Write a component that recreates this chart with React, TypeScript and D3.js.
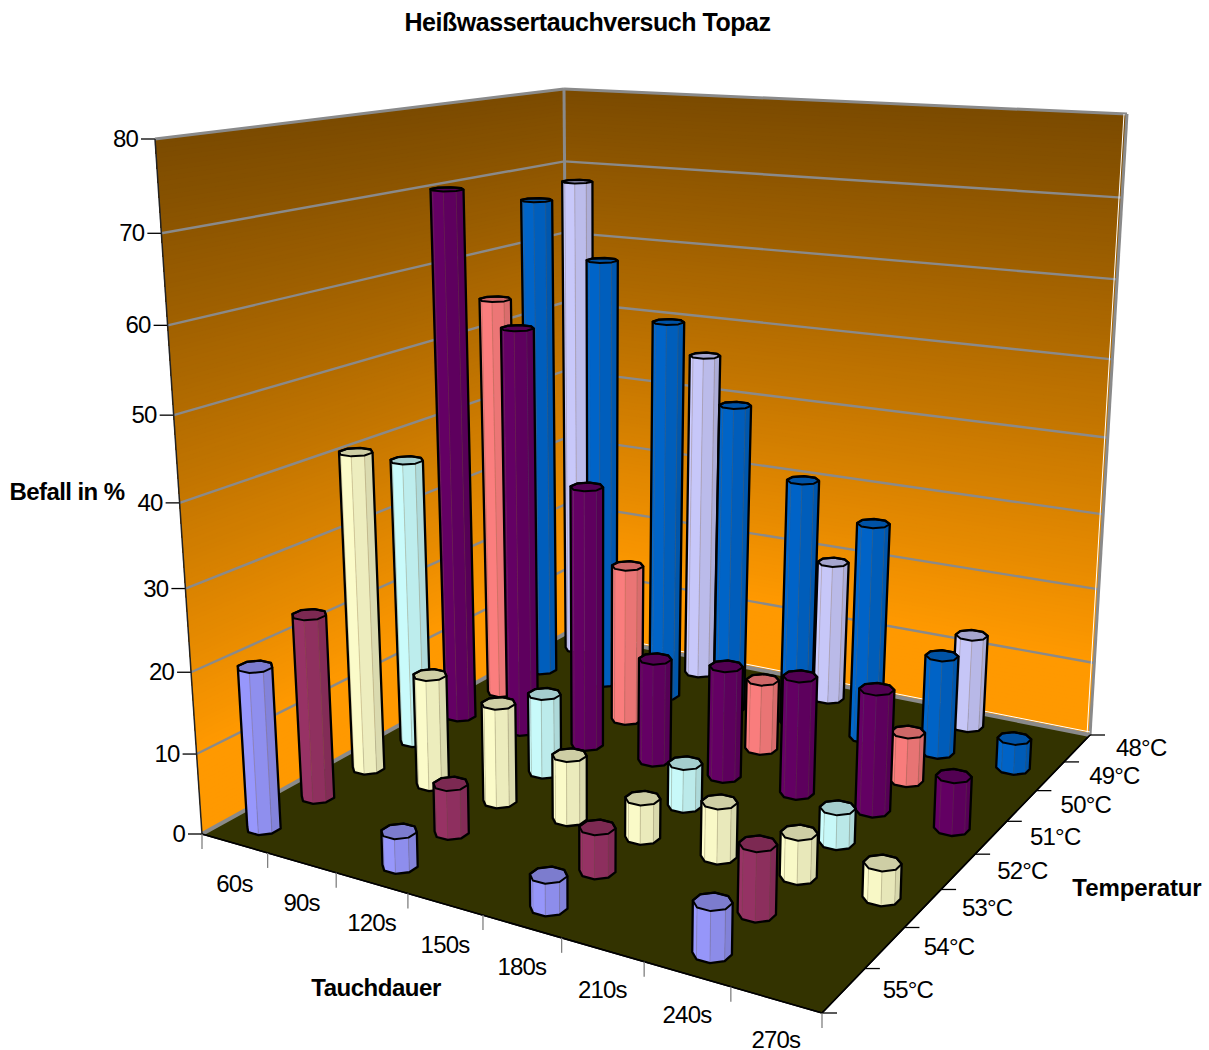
import React from "react";
import * as d3 from "d3";

// Categories of the two floor axes and the value axis
const times = ["60s", "90s", "120s", "150s", "180s", "210s", "240s", "270s"];
const temps = ["48°C", "49°C", "50°C", "51°C", "52°C", "53°C", "54°C", "55°C"];
const valueTicks = [0, 10, 20, 30, 40, 50, 60, 70, 80];

// Infestation per immersion time, one list for each water temperature
const t48 = [68, null, 45.7, null, 19.5, null, 12.7, null];
const t49 = [66.6, 59.3, 52, 42, 33.3, 29, 13.1, 4];
const t50 = [54.8, null, 21.4, null, 9.4, null, 6.4, null];
const t51 = [70.2, 53.6, 34.5, 13.6, 14.5, 15.1, 15.4, 6.6];
const t52 = [37.6, null, 10.4, null, 5.5, null, 4.3, null];
const t53 = [40.9, 14.3, 12.6, 8.1, 4.9, 6.7, 5.3, 4.1];
const t54 = [23.3, null, 6.1, null, 5.3, null, 8.1, null];
const t55 = [20, null, 4.2, null, 3.8, null, 5.8, null];
const seriesValues = [t48, t49, t50, t51, t52, t53, t54, t55];
const seriesColors = ["#CCCCFF", "#0066CC", "#FF8080", "#660066", "#CCFFFF", "#FFFFCC", "#993366", "#9999FF"];

type Pt = [number, number];

// Chart box corners on screen: floor plane, then the plane through the wall tops
const floorCorners: Pt[] = [[202, 834], [822, 1013], [1090, 735], [568, 632]];
const ceilingCorners: Pt[] = [[155, 139], [840, 180], [1127, 114], [564, 89]];
const heightBend = -0.09;

// Homography taking the unit square (u along time, v along depth) onto a quad
function quadMatrix([p0, p1, p2, p3]: Pt[]) {
  const [x0, y0] = p0, [x1, y1] = p1, [x2, y2] = p2, [x3, y3] = p3;
  const dx1 = x1 - x2, dx2 = x3 - x2, sx = x0 - x1 + x2 - x3;
  const dy1 = y1 - y2, dy2 = y3 - y2, sy = y0 - y1 + y2 - y3;
  const den = dx1 * dy2 - dx2 * dy1;
  const g = (sx * dy2 - dx2 * sy) / den;
  const h = (dx1 * sy - sx * dy1) / den;
  return { a: x1 - x0 + g * x1, b: x3 - x0 + h * x3, c: x0, d: y1 - y0 + g * y1, e: y3 - y0 + h * y3, f: y0, g, h };
}
const floorM = quadMatrix(floorCorners);
const ceilM = quadMatrix(ceilingCorners);

function applyM(m: ReturnType<typeof quadMatrix>, u: number, v: number) {
  const W = m.g * u + m.h * v + 1;
  return { x: (m.a * u + m.b * v + m.c) / W, y: (m.d * u + m.e * v + m.f) / W, W };
}

// Screen position of a point on the floor square at relative height hn
function project(u: number, v: number, hn: number): Pt {
  const f = applyM(floorM, u, v);
  const c = applyM(ceilM, u, v);
  const k = heightBend / f.W;
  const t = (hn * (1 + k)) / (1 + hn * k);
  return [f.x + (c.x - f.x) * t, f.y + (c.y - f.y) * t];
}

const uScale = d3.scaleBand<string>().domain(times).range([0, 1]);
const vScale = d3.scaleBand<string>().domain(temps).range([1, 0]);
const hScale = d3.scaleLinear().domain([0, 80]).range([0, 1]);
const wallColor = d3.scaleLinear<string>().domain([0, 10, 80]).range(["#FF9900", "#FF9900", "#7A4A00"]);

const poly = (pts: Pt[]) => "M" + pts.map((p) => `${p[0].toFixed(2)},${p[1].toFixed(2)}`).join("L") + "Z";
const seg = (a: Pt, b: Pt) => `M${a[0]},${a[1]}L${b[0]},${b[1]}`;

const FACETS = 8;
const RADIUS_RATIO = 0.205;
const CENTER_NUDGE = 0.002;

function Cylinder({ time, temp, value, color }: { time: string; temp: string; value: number; color: string }) {
  const band = uScale.bandwidth();
  const cu = uScale(time)! + band / 2 + CENTER_NUDGE;
  const cv = vScale(temp)! + band / 2;
  const r = band * RADIUS_RATIO;
  const hn = hScale(value);
  const ring = (level: number): Pt[] =>
    d3.range(FACETS).map((i) => {
      const a = ((i + 0.5) / FACETS) * 2 * Math.PI;
      return project(cu + r * Math.cos(a), cv + r * Math.sin(a), level);
    });
  const bottom = ring(0);
  const top = ring(hn);
  const sign = Math.sign(d3.polygonArea(bottom));
  const minX = d3.min(bottom, (p) => p[0])!;
  const maxX = d3.max(bottom, (p) => p[0])!;
  const shade = d3.interpolateRgb(color, d3.rgb(color).darker(0.55).formatHex());
  const topFill = d3.rgb(color).darker(0.6).formatHex();
  const faces = d3.range(FACETS).map((i) => {
    const j = (i + 1) % FACETS;
    return { i, quad: [bottom[i], bottom[j], top[j], top[i]] as Pt[], mid: (bottom[i][0] + bottom[j][0]) / 2 };
  });
  const visible = faces.filter((f) => Math.sign(d3.polygonArea(f.quad)) === sign);
  const hull = d3.polygonHull([...bottom, ...top])!;
  const tone = (x: number) => shade(Math.pow((x - minX) / (maxX - minX), 1.6));
  return (
    <g>
      {visible.map((f) => (
        <path key={f.i} d={poly(f.quad)} fill={tone(f.mid)} stroke={tone(f.mid)} strokeWidth={0.5} />
      ))}
      {visible.map((f) => (
        <path key={f.i} d={seg(f.quad[0], f.quad[3])} stroke="#6b5a48" strokeOpacity={0.3} strokeWidth={0.8} />
      ))}
      <path d={poly(top)} fill={topFill} stroke="#000" strokeWidth={2} strokeLinejoin="round" />
      <path d={poly(hull as Pt[])} fill="none" stroke="#000" strokeWidth={2.3} strokeLinejoin="round" />
    </g>
  );
}

function Wall({ a, b }: { a: [number, number]; b: [number, number] }) {
  // Painted bottom to top so that each band covers the rest of the wall without seams
  const steps = d3.range(0, 80, 0.5);
  return (
    <g>
      {steps.map((s) => (
        <path key={s} d={poly([project(a[0], a[1], hScale(s)), project(b[0], b[1], hScale(s)), project(b[0], b[1], 1), project(a[0], a[1], 1)])} fill={wallColor(s)} />
      ))}
    </g>
  );
}

const labelFont = "'Liberation Sans', Arial, sans-serif";

export default function App() {
  const edges = d3.range(0, 9).map((i) => i / 8);
  const cells: { time: string; temp: string; value: number; color: string }[] = [];
  temps.forEach((temp, s) => {
    times.forEach((time, t) => {
      const value = seriesValues[s][t];
      if (value !== null) cells.push({ time, temp, value, color: seriesColors[s] });
    });
  });
  const gray = "#8a8a8a";
  const backCorner = project(0, 1, 0);
  const rightCorner = project(1, 1, 0);
  const rightTop = project(1, 1, 1);
  return (
    <svg width={1209} height={1050} style={{ position: "absolute", left: 0, top: 0, background: "#fff" }} fontFamily={labelFont}>
      <path d={poly([project(0, 0, 0), project(1, 0, 0), project(1, 1, 0), project(0, 1, 0)])} fill="#333300" stroke="#000" strokeWidth={1.5} />
      <Wall a={[0, 0]} b={[0, 1]} />
      <Wall a={[0, 1]} b={[1, 1]} />

      {valueTicks.map((t) => {
        const p = project(0, 0, hScale(t));
        return (
          <g key={t}>
            {t > 0 && t < 80 && <path d={seg(p, project(0, 1, hScale(t)))} stroke={gray} strokeWidth={2.4} />}
            {t > 0 && t < 80 && <path d={seg(project(0, 1, hScale(t)), project(1, 1, hScale(t)))} stroke={gray} strokeWidth={2.4} />}
            <path d={seg(p, [p[0] - 14, p[1]])} stroke="#000" strokeWidth={1.3} />
            <text x={p[0] - 17} y={p[1] + 8} textAnchor="end" fontSize={24} letterSpacing={-0.8} fill="#000">{t}</text>
          </g>
        );
      })}

      {/* box edges */}
      <path d={seg(project(0, 0, 1), project(0, 1, 1))} stroke={gray} strokeWidth={3} />
      <path d={seg(project(0, 1, 1), project(1, 1, 1))} stroke={gray} strokeWidth={3} />
      <path d={seg(backCorner, project(0, 1, 1))} stroke={gray} strokeWidth={3} />
      <path d={seg([rightCorner[0] - 3, rightCorner[1]], [rightTop[0] - 3, rightTop[1]])} stroke="#fff" strokeWidth={1} />
      <path d={seg(rightCorner, rightTop)} stroke={gray} strokeWidth={3} />
      <path d={seg([backCorner[0], backCorner[1] - 3], [rightCorner[0], rightCorner[1] - 3])} stroke="#fff" strokeWidth={1} />
      <path d={seg(project(0, 0, 0), backCorner)} stroke={gray} strokeWidth={4} />
      <path d={seg(backCorner, rightCorner)} stroke={gray} strokeWidth={4} />
      <path d={seg(project(0, 0, 0), project(0, 0, 1))} stroke="#222" strokeWidth={1.5} />
      <path d={seg(project(0, 0, 0), project(1, 0, 0))} stroke="#000" strokeWidth={1.5} />
      <path d={seg(project(1, 0, 0), rightCorner)} stroke="#000" strokeWidth={1.5} />

      {/* category ticks and labels along the front floor edges */}
      {edges.map((e, i) => {
        const p = project(e, 0, 0);
        const q = project(1, e, 0);
        return (
          <g key={i}>
            <path d={seg(p, [p[0], p[1] + 15])} stroke="#808080" strokeWidth={1.3} />
            <path d={seg(q, [q[0] + 15, q[1]])} stroke="#000" strokeWidth={1.3} />
          </g>
        );
      })}
      {times.map((t) => {
        const p = project(uScale(t)! + uScale.bandwidth() / 2, 0, 0);
        return <text key={t} x={p[0]} y={p[1] + 48.5} textAnchor="middle" fontSize={24} letterSpacing={-0.8} fill="#000">{t}</text>;
      })}
      {temps.map((t) => {
        const p = project(1, vScale(t)! + vScale.bandwidth() / 2, 0);
        return <text key={t} x={p[0] + 64} y={p[1] + 7.5} textAnchor="middle" fontSize={24} letterSpacing={-0.8} fill="#000">{t}</text>;
      })}

      {cells.map((c) => (
        <Cylinder key={c.temp + c.time} {...c} />
      ))}

      <text x={587.5} y={31} textAnchor="middle" fontSize={25} fontWeight="bold" letterSpacing={-0.45}>Heißwassertauchversuch Topaz</text>
      <text x={67} y={500} textAnchor="middle" fontSize={24} fontWeight="bold" letterSpacing={-0.6}>Befall in %</text>
      <text x={376} y={996} textAnchor="middle" fontSize={24} fontWeight="bold" letterSpacing={-0.47}>Tauchdauer</text>
      <text x={1137} y={896} textAnchor="middle" fontSize={24} fontWeight="bold" letterSpacing={-0.1}>Temperatur</text>
    </svg>
  );
}
